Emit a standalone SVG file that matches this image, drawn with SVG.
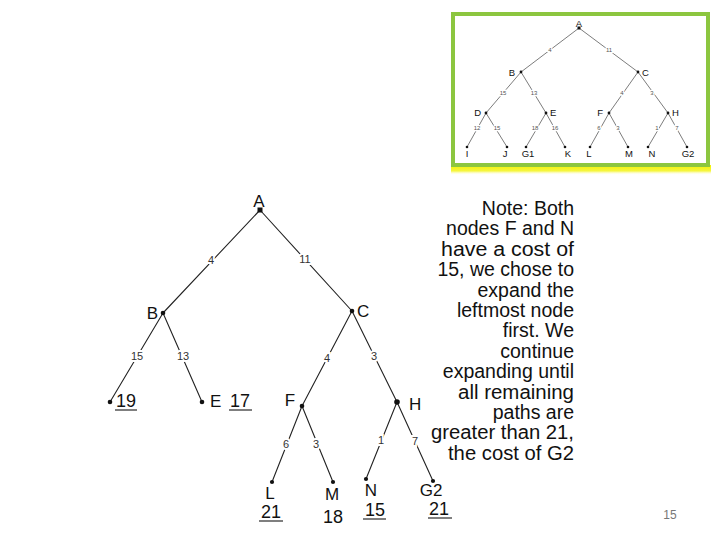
<svg xmlns="http://www.w3.org/2000/svg" width="720" height="540" viewBox="0 0 720 540">
<defs>
<style>
.e{stroke:#222;stroke-width:1.1;fill:none}
.te{stroke:#444;stroke-width:0.7;fill:none}
.nl{font-family:"Liberation Sans",Arial,sans-serif;font-size:17px;fill:#111}
.cost{font-family:"Liberation Sans",Arial,sans-serif;font-size:18px;fill:#111}
.el{font-family:"Liberation Sans",Arial,sans-serif;font-size:11px;fill:#333;text-anchor:middle;dominant-baseline:central;stroke:#fff;stroke-width:4;paint-order:stroke}
.tn{font-family:"Liberation Sans",Arial,sans-serif;font-size:9.5px;fill:#111;dominant-baseline:central}
.tl{font-family:"Liberation Sans",Arial,sans-serif;font-size:6px;fill:#555;text-anchor:middle;dominant-baseline:central;stroke:#fff;stroke-width:2.5;paint-order:stroke}
.note{font-family:"Liberation Sans",Arial,sans-serif;font-size:19.5px;fill:#111;text-anchor:end}
.u{stroke:#555;stroke-width:1.5}
</style>
<linearGradient id="yg" x1="0" y1="0" x2="0" y2="1">
<stop offset="0" stop-color="#f2f200"/>
<stop offset="0.6" stop-color="#f6f640"/>
<stop offset="1" stop-color="#ffffff" stop-opacity="0"/>
</linearGradient>
</defs>
<rect width="720" height="540" fill="#fff"/>

<!-- thumbnail -->
<g id="thumbnail">
<rect x="451" y="165" width="260" height="10" fill="url(#yg)"/>
<rect x="453" y="14" width="255" height="151" fill="#fff" stroke="#8cc63f" stroke-width="4"/>
<g id="thumb-edges">
<path class="te" d="M579 28L521 72M579 28L638 72M521 72L486 113M521 72L546 113M638 72L609 113M638 72L668 113M486 113L467 147M486 113L507 147M546 113L526 147M546 113L565 147M609 113L590 147M609 113L628 147M668 113L648 147M668 113L687 147"/>
<text class="tl" x="550" y="50">4</text>
<text class="tl" x="609" y="50">11</text>
<text class="tl" x="503" y="93">15</text>
<text class="tl" x="534" y="93">13</text>
<text class="tl" x="622" y="93">4</text>
<text class="tl" x="652" y="93">3</text>
<text class="tl" x="477" y="128">12</text>
<text class="tl" x="497" y="128">15</text>
<text class="tl" x="535" y="128">18</text>
<text class="tl" x="555" y="128">16</text>
<text class="tl" x="599" y="128">6</text>
<text class="tl" x="618" y="128">3</text>
<text class="tl" x="657" y="128">1</text>
<text class="tl" x="677" y="128">7</text>
</g>
<g fill="#111">
<rect x="577.5" y="26.5" width="3" height="3"/><circle cx="521" cy="72" r="1.4"/><circle cx="638" cy="72" r="1.4"/>
<circle cx="486" cy="113" r="1.4"/><circle cx="546" cy="113" r="1.4"/><circle cx="609" cy="113" r="1.4"/><circle cx="668" cy="113" r="1.4"/>
<circle cx="467" cy="147" r="1.3"/><circle cx="507" cy="147" r="1.3"/><circle cx="526" cy="147" r="1.3"/><circle cx="565" cy="147" r="1.3"/>
<circle cx="590" cy="147" r="1.3"/><circle cx="628" cy="147" r="1.3"/><circle cx="648" cy="147" r="1.3"/><circle cx="687" cy="147" r="1.3"/>
</g>
<text class="tn" x="579" y="23" text-anchor="middle">A</text>
<text class="tn" x="515" y="72" text-anchor="end">B</text>
<text class="tn" x="642" y="72">C</text>
<text class="tn" x="481" y="112" text-anchor="end">D</text>
<text class="tn" x="550" y="112">E</text>
<text class="tn" x="603" y="112" text-anchor="end">F</text>
<text class="tn" x="672" y="112">H</text>
<text class="tn" x="467" y="153" text-anchor="middle">I</text>
<text class="tn" x="505" y="153" text-anchor="middle">J</text>
<text class="tn" x="528" y="153" text-anchor="middle">G1</text>
<text class="tn" x="568" y="153" text-anchor="middle">K</text>
<text class="tn" x="589" y="153" text-anchor="middle">L</text>
<text class="tn" x="629" y="153" text-anchor="middle">M</text>
<text class="tn" x="652" y="153" text-anchor="middle">N</text>
<text class="tn" x="688" y="153" text-anchor="middle">G2</text>
</g>

<!-- connectors -->
<g id="connectors">
<path class="e" d="M260 210L163 313M260 210L352 311M163 313L110 402M163 313L202 402M352 311L302 406M352 311L397 402M302 406L272 482M302 406L333 482M397 402L366 479M397 402L433 481"/>
<text class="el" x="211" y="260">4</text>
<text class="el" x="305" y="259">11</text>
<text class="el" x="137" y="356">15</text>
<text class="el" x="183" y="356">13</text>
<text class="el" x="327" y="358">4</text>
<text class="el" x="374" y="356">3</text>
<text class="el" x="286" y="444">6</text>
<text class="el" x="316" y="444">3</text>
<text class="el" x="381" y="440">1</text>
<text class="el" x="415" y="441">7</text>
</g>

<!-- nodes -->
<g id="node-A"><rect x="257.5" y="207.5" width="5" height="5" fill="#111"/><text class="nl" x="259" y="207" text-anchor="middle" font-size="15">A</text></g>
<g id="node-B"><circle cx="163" cy="313" r="2.3" fill="#111"/><text class="nl" x="158" y="319" text-anchor="end">B</text></g>
<g id="node-C"><circle cx="352" cy="311" r="2.3" fill="#111"/><text class="nl" x="357" y="317">C</text></g>
<g id="node-19"><circle cx="110" cy="402" r="2.3" fill="#111"/><text class="cost" x="126" y="407" text-anchor="middle">19</text><line class="u" x1="115" y1="410" x2="137" y2="410"/></g>
<g id="node-E"><circle cx="202" cy="402" r="2.3" fill="#111"/><text class="nl" x="210" y="407">E</text><text class="cost" x="240" y="407" text-anchor="middle">17</text><line class="u" x1="229" y1="410" x2="252" y2="410"/></g>
<g id="node-F"><circle cx="302" cy="406" r="2.3" fill="#111"/><text class="nl" x="290" y="406" text-anchor="middle">F</text></g>
<g id="node-H"><circle cx="397" cy="402" r="2.8" fill="#111"/><text class="nl" x="409" y="410">H</text></g>
<g id="node-L"><circle cx="272" cy="482" r="2.1" fill="#111"/><text class="nl" x="270" y="499" text-anchor="middle" font-size="15.5">L</text><text class="cost" x="271" y="518" text-anchor="middle">21</text><line class="u" x1="259" y1="521" x2="283" y2="521"/></g>
<g id="node-M"><circle cx="333" cy="482" r="2.1" fill="#111"/><text class="nl" x="332" y="500" text-anchor="middle" font-size="16">M</text><text class="cost" x="333" y="523" text-anchor="middle">18</text></g>
<g id="node-N"><circle cx="366" cy="479" r="2.1" fill="#111"/><text class="nl" x="371" y="496" text-anchor="middle" font-size="16">N</text><text class="cost" x="375" y="516" text-anchor="middle">15</text><line class="u" x1="363" y1="519" x2="386" y2="519"/></g>
<g id="node-G2"><circle cx="433" cy="481" r="2.1" fill="#111"/><text class="nl" x="431" y="496" text-anchor="middle" font-size="16">G2</text><text class="cost" x="439" y="515" text-anchor="middle">21</text><line class="u" x1="428" y1="518" x2="452" y2="518"/></g>

<!-- note -->
<g id="note">
<text class="note" x="574" y="215">Note: Both</text>
<text class="note" x="574" y="235">nodes F and N</text>
<text class="note" x="574" y="256" textLength="133" lengthAdjust="spacingAndGlyphs">have a cost of</text>
<text class="note" x="574" y="276">15, we chose to</text>
<text class="note" x="574" y="297">expand the</text>
<text class="note" x="574" y="317">leftmost node</text>
<text class="note" x="574" y="337">first. We</text>
<text class="note" x="574" y="358">continue</text>
<text class="note" x="574" y="378">expanding until</text>
<text class="note" x="574" y="399" textLength="116" lengthAdjust="spacingAndGlyphs">all remaining</text>
<text class="note" x="574" y="419">paths are</text>
<text class="note" x="574" y="439" textLength="143" lengthAdjust="spacingAndGlyphs">greater than 21,</text>
<text class="note" x="574" y="460" textLength="126" lengthAdjust="spacingAndGlyphs">the cost of G2</text>
</g>

<text x="670" y="519" text-anchor="middle" font-family="'Liberation Sans',Arial,sans-serif" font-size="12" fill="#777">15</text>
</svg>
